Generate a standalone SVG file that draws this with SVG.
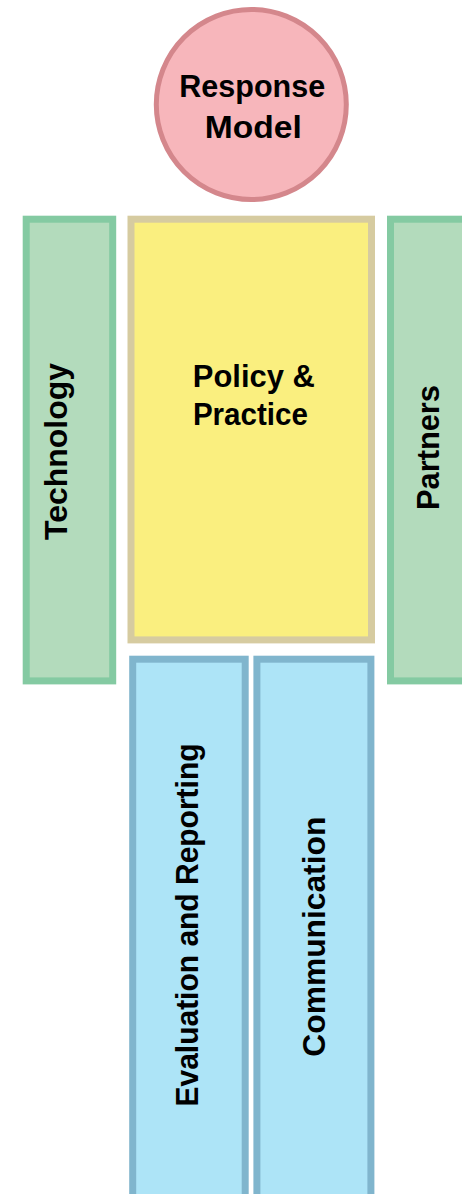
<svg xmlns="http://www.w3.org/2000/svg" width="462" height="1194" viewBox="0 0 462 1194">
<style>
.t{font-family:"Liberation Sans",Arial,sans-serif;font-weight:bold;font-size:31px;fill:#000;text-anchor:middle}
.g{fill:#B3DBBC;stroke:#84CAA2;stroke-width:7}
.y{fill:#FAEF7F;stroke:#D6CBA0;stroke-width:7}
.b{fill:#ADE4F7;stroke:#80B5CD;stroke-width:7}
</style>
<rect width="462" height="1194" fill="#fff"/>
<g id="response-model">
<circle cx="251.3" cy="104.5" r="95" fill="#F7B6BB" stroke="#D4878C" stroke-width="5"/>
<text class="t" x="252.2" y="97.3" textLength="146" lengthAdjust="spacingAndGlyphs">Response</text>
<text class="t" x="253.3" y="138" textLength="97" lengthAdjust="spacingAndGlyphs">Model</text>
</g>
<g id="technology">
<rect class="g" x="26.2" y="219.2" width="86.5" height="461.7"/>
<text class="t" transform="translate(67.3,451.5) rotate(-90)" textLength="177" lengthAdjust="spacingAndGlyphs">Technology</text>
</g>
<g id="policy-practice">
<rect class="y" x="131" y="219.2" width="240.5" height="420.7"/>
<text class="t" x="253.8" y="387.3" textLength="122" lengthAdjust="spacingAndGlyphs">Policy &amp;</text>
<text class="t" x="250.4" y="425" textLength="115" lengthAdjust="spacingAndGlyphs">Practice</text>
</g>
<g id="partners">
<rect class="g" x="390.5" y="219.2" width="90" height="461.7"/>
<text class="t" transform="translate(439.3,447.5) rotate(-90)" textLength="125" lengthAdjust="spacingAndGlyphs">Partners</text>
</g>
<g id="evaluation-reporting">
<rect class="b" x="132.7" y="659.2" width="112.5" height="540"/>
<text class="t" transform="translate(198.3,925) rotate(-90)" textLength="363" lengthAdjust="spacingAndGlyphs">Evaluation and Reporting</text>
</g>
<g id="communication">
<rect class="b" x="256.9" y="659.2" width="114" height="540"/>
<text class="t" transform="translate(325,936.7) rotate(-90)" textLength="240" lengthAdjust="spacingAndGlyphs">Communication</text>
</g>
<g id="connectors"></g>
</svg>
